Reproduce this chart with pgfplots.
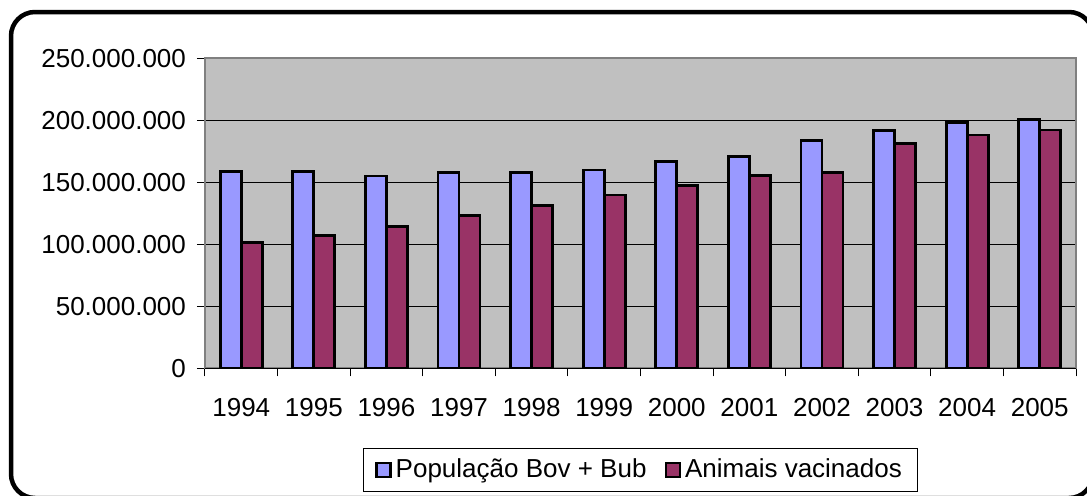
\documentclass[border=0pt]{standalone}
\usepackage{pgfplots}
\pgfplotsset{compat=1.18}
\usepackage{fontspec}
\setmainfont{Liberation Sans}
\definecolor{popblue}{HTML}{9999FF}
\definecolor{vacmaroon}{HTML}{993366}
\definecolor{plotgray}{HTML}{C0C0C0}

\begin{document}
\begin{tikzpicture}[font=\fontsize{13}{15.6}\selectfont]
\begin{axis}[
  at={(102.5pt,63.35pt)}, anchor=south west,
  scale only axis, width=435.5pt, height=155pt,
  xmin=-0.5, xmax=11.5, ymin=0, ymax=250000000,
  ybar=0pt, bar width=10.5pt,
  axis background/.style={fill=plotgray},
  xtick={-0.5,0.5,1.5,2.5,3.5,4.5,5.5,6.5,7.5,8.5,9.5,10.5,11.5},
  x tick label as interval,
  xticklabels={1994,1995,1996,1997,1998,1999,2000,2001,2002,2003,2004,2005},
  ytick={0,50000000,100000000,150000000,200000000,250000000},
  yticklabels={0,50.000.000,100.000.000,150.000.000,200.000.000,250.000.000},
  scaled y ticks=false,
  xtick pos=bottom, ytick pos=left,
  ymajorgrids, major grid style={black, line width=0.5pt},
  tick align=outside, major tick length=4pt,
  tick style={black, line width=0.5pt},
  axis line style={draw=black!50, line width=1pt},
  yticklabel style={anchor=east, xshift=-2pt},
  xticklabel style={anchor=north, yshift=-7.5pt},
  legend style={at={(0.5,-0.328)}, anchor=center, legend columns=2,
    draw=black, line width=0.5pt, inner xsep=6pt, inner ysep=3.5pt,
    /tikz/every even column/.append style={column sep=7pt},
    nodes={inner xsep=2pt}},
  legend image code/.code={\draw[#1, line width=1.3pt] (0pt,-3.5pt) rectangle (7pt,3.5pt);},
]
% Bovine + buffalo population
\addplot[fill=popblue, draw=black, line width=1.4pt] coordinates {
  (0,158800000) (1,158600000) (2,155100000) (3,158000000)
  (4,157800000) (5,160000000) (6,166700000) (7,170500000)
  (8,183400000) (9,191700000) (10,198100000) (11,200800000)};
% Vaccinated animals
\addplot[fill=vacmaroon, draw=black, line width=1.4pt] coordinates {
  (0,101600000) (1,107200000) (2,114500000) (3,123400000)
  (4,131000000) (5,139800000) (6,147300000) (7,155600000)
  (8,157600000) (9,181000000) (10,188200000) (11,192200000)};
\legend{População Bov + Bub, Animais vacinados}
\draw[black, line width=0.6pt] (axis cs:-0.5,0) -- (axis cs:11.5,0);
\end{axis}
\draw[line width=2.25pt, rounded corners=12pt] (5.5pt,-1.5pt) rectangle (546.5pt,241.5pt);
\pgfresetboundingbox
\useasboundingbox (0pt,0pt) rectangle (543.5pt,247.5pt);
\end{tikzpicture}
\end{document}
